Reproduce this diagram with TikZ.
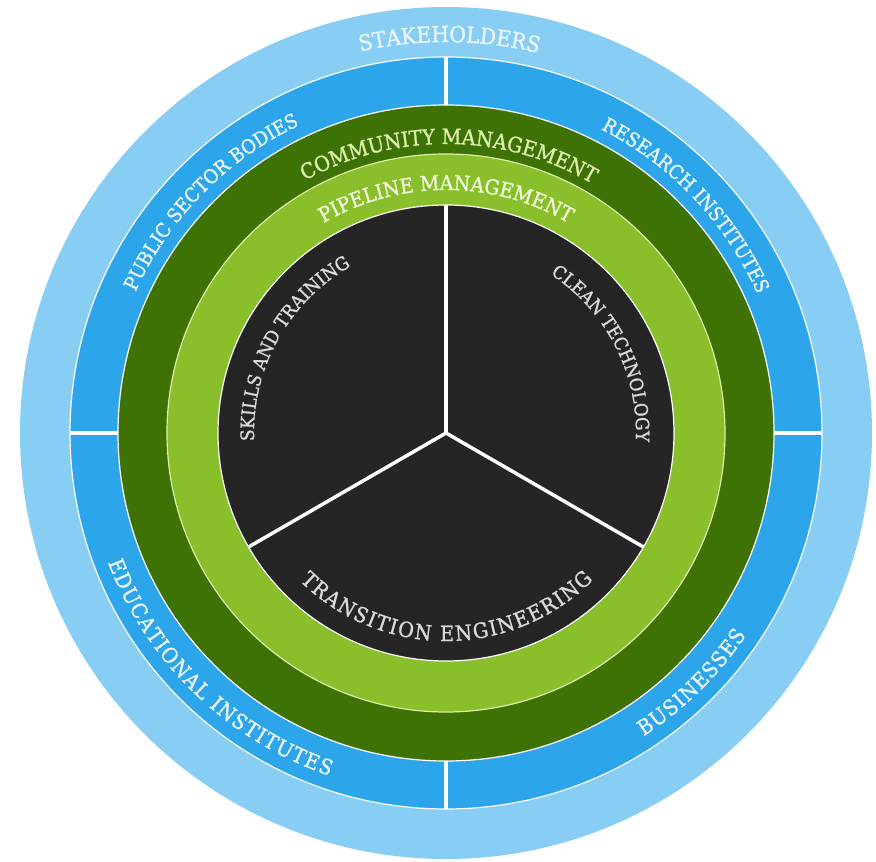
\documentclass[tikz,border=0pt]{standalone}
\usepackage{fontspec}
\setmainfont{DejaVu Serif}[FakeStretch=0.92,FakeBold=1.1]
\usetikzlibrary{decorations.text}
\definecolor{outerblue}{HTML}{87CDF4}
\definecolor{midblue}{HTML}{2DA5EA}
\definecolor{darkgreen}{HTML}{3F7204}
\definecolor{lightgreen}{HTML}{88BF2A}
\definecolor{coredark}{HTML}{252525}
\definecolor{bluetext}{HTML}{EAF6FD}
\definecolor{commtext}{HTML}{DCF0AE}
\definecolor{pipetext}{HTML}{F0F9DC}
\definecolor{coretext}{HTML}{DADADA}
% text along an arc: colour, size, extra letter spacing, radius, start angle, end angle, text
\newcommand{\arclabel}[7]{
  \path[decorate,decoration={text along path,text align=center,
      text={|\color{#1}\fontsize{#2}{#2}\selectfont\kern#3pt|#7}}]
    (#5:#4pt) arc[start angle=#5,end angle=#6,radius=#4pt];
}

\begin{document}
\begin{tikzpicture}[x=1pt,y=1pt]
\tikzstyle{ring}=[draw=white,line width=1.2pt]
\tikzstyle{divider}=[draw=white,line width=4pt]
\useasboundingbox (-446,-429) rectangle (430,433);
\coordinate (hub) at (0,0);

% rings, outside in
\fill[outerblue] (hub) circle[radius=426pt];
\filldraw[midblue,ring] (hub) circle[radius=376pt];
\filldraw[darkgreen,ring] (hub) circle[radius=328pt];
\filldraw[lightgreen,draw=commtext,line width=1.2pt] (hub) circle[radius=279pt];
\filldraw[coredark,ring] (hub) circle[radius=228pt];

% stakeholder ring split in four
\foreach \a in {0,90,180,270}
  \draw[divider] (\a:328pt) -- (\a:376pt);

% three sectors of the core
\foreach \a [count=\i] in {90,210,330} {
  \coordinate (spoke\i) at (\a:228pt);
  \draw[divider,line width=3.5pt] (hub) -- (spoke\i);
}

\arclabel{bluetext}{22}{0}{391}{134.5}{44.5}{STAKEHOLDERS}
\arclabel{bluetext}{19.5}{0}{341}{205.5}{65.5}{PUBLIC SECTOR BODIES}
\arclabel{bluetext}{19.5}{0}{341}{113.5}{-26.5}{RESEARCH INSTITUTES}
\arclabel{bluetext}{21}{1.4}{362}{156}{296}{EDUCATIONAL INSTITUTES}
\arclabel{bluetext}{21}{1}{362}{264.5}{364.5}{BUSINESSES}
\arclabel{commtext}{21}{0}{289}{149.4}{29.4}{COMMUNITY MANAGEMENT}
\arclabel{pipetext}{20.5}{0}{243}{150}{30}{PIPELINE MANAGEMENT}
\arclabel{coretext}{18.5}{0}{192}{221}{81}{SKILLS AND TRAINING}
\arclabel{coretext}{18.2}{0}{190}{97}{-43}{CLEAN TECHNOLOGY}
\arclabel{coretext}{21}{1.6}{208}{195}{345}{TRANSITION ENGINEERING}
\end{tikzpicture}
\end{document}
